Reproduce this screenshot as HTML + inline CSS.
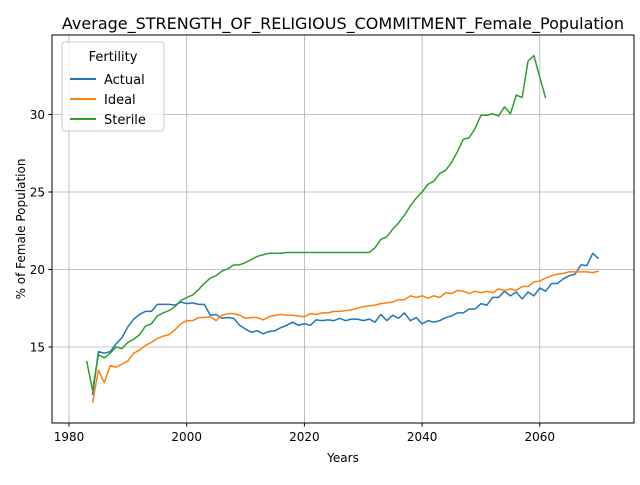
<!DOCTYPE html>
<html><head><meta charset="utf-8"><style>
body{margin:0;background:#fff;font-family:"Liberation Sans","DejaVu Sans",sans-serif}
svg text{font-family:"DejaVu Sans","Liberation Sans",sans-serif}
</style></head><body>
<svg id="c" width="640" height="480" xmlns="http://www.w3.org/2000/svg">
<rect width="640" height="480" fill="#fff"/>
<text x="343" y="29" text-anchor="middle" font-size="16">Average_STRENGTH_OF_RELIGIOUS_COMMITMENT_Female_Population</text>
<g id="grid"></g><g id="ticks"></g><g id="lines"></g>
<rect x="52" y="35" width="582" height="388" fill="none" stroke="#000" stroke-width="1"/>
<text x="343" y="462" text-anchor="middle" font-size="12">Years</text>
<text transform="translate(25,229) rotate(-90)" text-anchor="middle" font-size="12">% of Female Population</text>
<g>
<rect x="62" y="42" width="102" height="89" rx="3" fill="#fff" fill-opacity="0.8" stroke="#ccc"/>
<text x="113" y="61" text-anchor="middle" font-size="13">Fertility</text>
<line x1="70" y1="79" x2="96" y2="79" stroke="#1f77b4" stroke-width="2"/><text x="104" y="84" font-size="13">Actual</text>
<line x1="70" y1="99" x2="96" y2="99" stroke="#ff7f0e" stroke-width="2"/><text x="104" y="104" font-size="13">Ideal</text>
<line x1="70" y1="119" x2="96" y2="119" stroke="#2ca02c" stroke-width="2"/><text x="104" y="124" font-size="13">Sterile</text>
</g>
</svg>
<script>
const xTicks=[1980,2000,2020,2040,2060];
const yTicks=[15,20,25,30];
const actualStart=1984;
const actual=[11.9,14.7,14.6,14.7,15.2,15.6,16.3,16.8,17.1,17.3,17.3,17.75,17.75,17.75,17.7,17.9,17.8,17.85,17.75,17.75,17.05,17.1,16.85,16.9,16.85,16.4,16.15,15.95,16.05,15.85,16.0,16.05,16.25,16.4,16.6,16.4,16.5,16.4,16.75,16.7,16.75,16.7,16.85,16.7,16.8,16.8,16.7,16.8,16.6,17.1,16.7,17.05,16.85,17.2,16.7,16.9,16.5,16.7,16.6,16.7,16.9,17.0,17.2,17.2,17.45,17.45,17.8,17.7,18.2,18.2,18.6,18.3,18.55,18.1,18.55,18.3,18.8,18.6,19.1,19.1,19.4,19.6,19.7,20.3,20.25,21.05,20.7];
const idealStart=1984;
const ideal=[11.4,13.5,12.7,13.8,13.7,13.9,14.1,14.6,14.8,15.1,15.3,15.55,15.7,15.8,16.1,16.5,16.7,16.7,16.9,16.9,16.95,16.7,17.05,17.15,17.15,17.05,16.85,16.9,16.9,16.75,16.95,17.05,17.1,17.05,17.05,17.0,16.95,17.15,17.1,17.2,17.2,17.3,17.3,17.35,17.4,17.5,17.6,17.65,17.7,17.8,17.85,17.9,18.05,18.05,18.3,18.2,18.3,18.15,18.3,18.2,18.5,18.45,18.65,18.6,18.45,18.6,18.5,18.6,18.5,18.75,18.65,18.75,18.65,18.9,18.9,19.2,19.25,19.45,19.6,19.7,19.75,19.85,19.85,19.85,19.85,19.8,19.9];
const sterileStart=1983;
const sterile=[14.1,12.2,14.5,14.3,14.6,15.0,14.9,15.3,15.5,15.8,16.35,16.5,17.0,17.2,17.35,17.6,18.0,18.2,18.35,18.7,19.1,19.45,19.6,19.9,20.05,20.3,20.3,20.45,20.65,20.85,20.95,21.05,21.05,21.05,21.1,21.1,21.1,21.1,21.1,21.1,21.1,21.1,21.1,21.1,21.1,21.1,21.1,21.1,21.1,21.4,21.95,22.1,22.6,23.0,23.5,24.1,24.6,25.0,25.5,25.7,26.2,26.4,26.9,27.6,28.4,28.5,29.1,29.95,29.95,30.05,29.9,30.5,30.05,31.25,31.1,33.45,33.8,32.4,31.05];
const NS="http://www.w3.org/2000/svg";
function X(yr){return 69+(yr-1980)*5.885;}
function Y(v){return 347-(v-15)*15.5;}
const grid=document.getElementById('grid'),ticks=document.getElementById('ticks'),lines=document.getElementById('lines');
xTicks.forEach(t=>{
 const l=document.createElementNS(NS,'line');
 
 
 l.setAttribute('x1',X(t));l.setAttribute('x2',X(t));l.setAttribute('y1',35);l.setAttribute('y2',423);l.setAttribute('stroke','#b0b0b0');l.setAttribute('stroke-width','0.8');grid.appendChild(l);
 const k=document.createElementNS(NS,'line');k.setAttribute('x1',X(t));k.setAttribute('x2',X(t));k.setAttribute('y1',423);k.setAttribute('y2',426.5);k.setAttribute('stroke','#000');ticks.appendChild(k);
 const tx=document.createElementNS(NS,'text');
 
 
 tx.setAttribute('x',X(t));tx.setAttribute('y',441);tx.setAttribute('text-anchor','middle');tx.setAttribute('font-size','12');tx.textContent=t;ticks.appendChild(tx);
});
yTicks.forEach(t=>{
 const l=document.createElementNS(NS,'line');
 
 
 l.setAttribute('x1',52);l.setAttribute('x2',634);l.setAttribute('y1',Y(t));l.setAttribute('y2',Y(t));l.setAttribute('stroke','#b0b0b0');l.setAttribute('stroke-width','0.8');grid.appendChild(l);
 const k=document.createElementNS(NS,'line');k.setAttribute('x1',48.5);k.setAttribute('x2',52);k.setAttribute('y1',Y(t));k.setAttribute('y2',Y(t));k.setAttribute('stroke','#000');ticks.appendChild(k);
 const tx=document.createElementNS(NS,'text');
 
 
 tx.setAttribute('x',45);tx.setAttribute('y',Y(t)+4.5);tx.setAttribute('text-anchor','end');tx.setAttribute('font-size','12');tx.textContent=t;ticks.appendChild(tx);
});
function draw(arr,start,color,name){
 const p=document.createElementNS(NS,'polyline');
 
 
 p.setAttribute('points',arr.map((v,i)=>X(start+i).toFixed(2)+','+Y(v).toFixed(2)).join(' '));
 p.setAttribute('fill','none');p.setAttribute('stroke',color);p.setAttribute('stroke-width','1.5');p.setAttribute('stroke-linejoin','round');
 lines.appendChild(p);
}
draw(actual,actualStart,'#1f77b4','actual-line');
draw(ideal,idealStart,'#ff7f0e','ideal-line');
draw(sterile,sterileStart,'#2ca02c','sterile-line');
</script>
</body></html>
